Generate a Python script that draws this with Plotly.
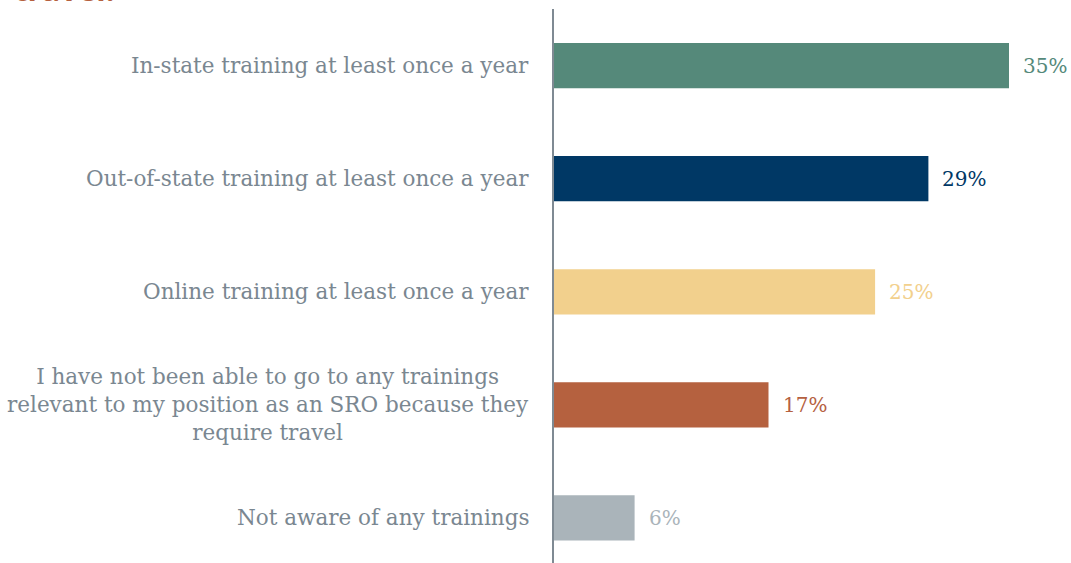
import plotly.graph_objects as go

categories = [
    "In-state training at least once a year",
    "Out-of-state training at least once a year",
    "Online training at least once a year",
    "I have not been able to go to any trainings<br>relevant to my position as an SRO because they<br>require travel",
    "Not aware of any trainings",
]
values = [35.0, 28.8, 24.7, 16.5, 6.2]
value_labels = ["35%", "29%", "25%", "17%", "6%"]
colors = ["#55897a", "#003865", "#f2d08d", "#b5613f", "#aab4ba"]
title_tail = "travel."

label_font = "DejaVu Serif"
label_color = "#7a8791"

W, H = 1071, 563
L, T = 554, 9
plot_w = W - L

fig = go.Figure()
fig.add_trace(go.Bar(
    x=values, y=list(range(len(categories))), orientation="h",
    marker=dict(color=colors, line=dict(width=0)),
    width=0.4, hoverinfo="skip",
))

annotations = []
for i, (cat, v, lab, c) in enumerate(zip(categories, values, value_labels, colors)):
    annotations.append(dict(
        x=0, y=i, xref="x", yref="y", text=cat, showarrow=False,
        xanchor="right", yanchor="middle", align="center", xshift=-23,
        font=dict(family=label_font, size=21.5, color=label_color),
    ))
    annotations.append(dict(
        x=v, y=i, xref="x", yref="y", text=lab, showarrow=False,
        xanchor="left", yanchor="middle", xshift=12,
        font=dict(family=label_font, size=20, color=c),
    ))
annotations.append(dict(
    x=(12 - L) / plot_w, y=1.0, xref="paper", yref="paper",
    xanchor="left", yanchor="bottom", yshift=-3,
    text="<b>" + title_tail + "</b>", showarrow=False,
    font=dict(family="Open Sans", size=31, color="#b5613f"),
))

fig.update_layout(
    width=W, height=H,
    margin=dict(l=L, r=0, t=T, b=0),
    paper_bgcolor="white", plot_bgcolor="white",
    showlegend=False,
    xaxis=dict(range=[0, plot_w / 13], visible=False, fixedrange=True),
    yaxis=dict(range=[4.398, -0.5], showticklabels=False, showgrid=False,
               zeroline=False, showline=True, linecolor="#7f8a93", linewidth=1.5,
               ticks="", fixedrange=True),
    annotations=annotations,
)

fig.write_html("out.html",
               config={"displayModeBar": False},
               post_script="document.body.style.margin='0';document.body.style.overflow='hidden';")
